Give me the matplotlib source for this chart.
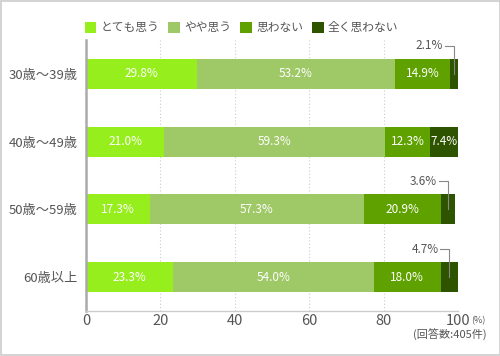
import matplotlib
matplotlib.use('Agg')
import matplotlib.pyplot as plt
from matplotlib.patches import Rectangle
import numpy as np

plt.rcParams['font.family'] = ['Noto Sans CJK JP', 'DejaVu Sans']

# data
ages = ['30歳〜39歳', '40歳〜49歳', '50歳〜59歳', '60歳以上']
series_names = ['とても思う', 'やや思う', '思わない', '全く思わない']
very = [29.8, 21.0, 17.3, 23.3]
somewhat = [53.2, 59.3, 57.3, 54.0]
not_really = [14.9, 12.3, 20.9, 18.0]
not_at_all = [2.1, 7.4, 3.6, 4.7]
x_ticks = [0, 20, 40, 60, 80, 100]

colors = ['#96ee1c', '#9fc866', '#5fa200', '#2e5400']
text_col = '#555555'

fig = plt.figure(figsize=(5, 3.56), dpi=100)
ax = fig.add_axes([0.172, 0.1264, 0.744, 0.7612])

series = [very, somewhat, not_really, not_at_all]
ypos = np.arange(len(ages))
left = np.zeros(len(ages))
bh = 0.443
for i, vals in enumerate(series):
    vals = np.array(vals)
    ax.barh(ypos, vals, left=left, height=bh, color=colors[i], zorder=2,
            label=series_names[i])
    for j, v in enumerate(vals):
        c = left[j] + v / 2
        if v >= 5:
            ax.text(c, ypos[j], f'{v:.1f}%', color='white', fontsize=8.5,
                    ha='center', va='center', zorder=4)
        else:
            # leader line label above the bar
            yt = ypos[j] - 0.415
            ax.plot([c - 2.4, c, c], [yt, yt, ypos[j]], color='#888888',
                    lw=0.8, zorder=3, clip_on=False)
            ax.text(c - 2.9, yt, f'{v:.1f}%', color=text_col, fontsize=8.5,
                    ha='right', va='center', zorder=4)
    left = left + vals

ax.set_xlim(0, 100)
ax.set_ylim(3.5, -0.5)
ax.set_yticks(ypos)
ax.set_yticklabels(ages, fontsize=9.5, color=text_col)
ax.set_xticks(x_ticks)
ax.set_xticklabels([str(t) for t in x_ticks], fontsize=10.5, color=text_col)
ax.tick_params(length=0, pad=6)
ax.tick_params(axis='x', pad=2)

for t in x_ticks[1:]:
    ax.axvline(t, color='#cccccc', lw=0.8, ls=(0, (1, 2)), zorder=1)

for s in ['top', 'right']:
    ax.spines[s].set_visible(False)
ax.spines['left'].set_color('#aaaaaa')
ax.spines['left'].set_linewidth(1.8)
ax.spines['bottom'].set_color('#cccccc')
ax.spines['bottom'].set_linewidth(1.0)

fig.text(0.942, 0.098, '(%)', fontsize=6.5, color=text_col, ha='left', va='center')
fig.text(0.973, 0.058, '(回答数:405件)', fontsize=8, color=text_col,
         ha='right', va='center')

# legend
handles, labels = ax.get_legend_handles_labels()
leg = fig.legend(handles, labels, loc='center left', bbox_to_anchor=(0.148, 0.922),
                 ncol=4, frameon=False, fontsize=8.5, handlelength=1.0,
                 handleheight=1.0, handletextpad=0.35, columnspacing=0.75,
                 labelcolor=text_col)

fig.patches.append(Rectangle((0.001, 0.0015), 0.998, 0.997, transform=fig.transFigure,
                             fill=False, edgecolor='#cccccc', lw=1.2))

fig.savefig('out.png', dpi=100)
